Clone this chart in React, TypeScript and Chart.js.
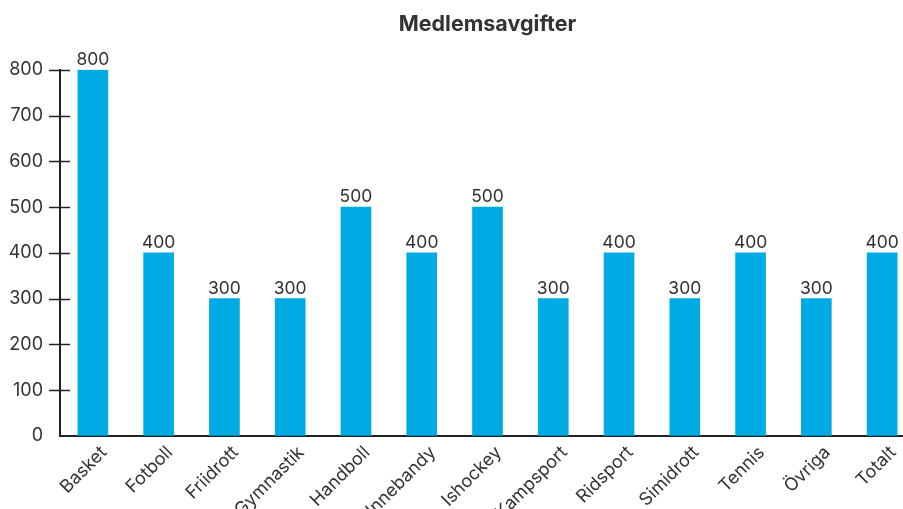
import React, { useEffect, useRef } from "react";
import { Chart, registerables } from "chart.js";

Chart.register(...registerables);

const categories = ["Basket", "Fotboll", "Friidrott", "Gymnastik", "Handboll", "Innebandy", "Ishockey", "Kampsport", "Ridsport", "Simidrott", "Tennis", "Övriga", "Totalt"];
const values = [800, 400, 300, 300, 500, 400, 500, 300, 400, 300, 400, 300, 400];
const yTicks = [100, 200, 300, 400, 500, 600, 700, 800];
const title = "Medlemsavgifter";

const FONT = "Inter, 'Open Sans', sans-serif";
const TEXT = "#333333";

const crossTicks = {
  id: "crossTicks",
  afterDraw(chart: any) {
    const { ctx, scales } = chart;
    const y = scales.y;
    const x0 = chart.chartArea.left;
    ctx.save();
    ctx.strokeStyle = "#222";
    ctx.lineWidth = 1.5;
    yTicks.forEach((v) => {
      const py = Math.round(y.getPixelForValue(v)) + 0.5;
      ctx.beginPath();
      ctx.moveTo(x0 - 11, py);
      ctx.lineTo(x0 + 10, py);
      ctx.stroke();
    });
    ctx.restore();
  },
};

const valueLabels = {
  id: "valueLabels",
  afterDatasetsDraw(chart: any) {
    const { ctx } = chart;
    const meta = chart.getDatasetMeta(0);
    ctx.save();
    ctx.font = `17.5px ${FONT}`;
    ctx.fillStyle = TEXT;
    ctx.textAlign = "center";
    ctx.textBaseline = "alphabetic";
    meta.data.forEach((bar: any, i: number) => {
      ctx.fillText(String(values[i]), bar.x, bar.y - 5);
    });
    ctx.restore();
  },
};

export default function App() {
  const ref = useRef<HTMLCanvasElement>(null);
  useEffect(() => {
    if (!ref.current) return;
    const chart = new Chart(ref.current, {
      type: "bar",
      data: {
        labels: categories,
        datasets: [
          {
            data: values,
            backgroundColor: "#00aae3",
            barThickness: 30,
          },
        ],
      },
      options: {
        animation: false,
        responsive: false,
        maintainAspectRatio: false,
        layout: { padding: 0 },
        plugins: {
          legend: { display: false },
          tooltip: { enabled: false },
          title: {
            display: true,
            text: title,
            fullSize: false,
            color: TEXT,
            font: { family: FONT, size: 21.5, weight: "bold" },
            padding: { top: 12, bottom: 32 },
          },
        },
        scales: {
          x: {
            grid: { display: false, drawTicks: false },
            border: { display: true, color: "#222", width: 2 },
            ticks: {
              color: TEXT,
              font: { family: FONT, size: 18 },
              maxRotation: 45,
              minRotation: 45,
              autoSkip: false,
              padding: 6,
              labelOffset: 11,
            },
            afterFit(scale: any) {
              scale.height = 73;
            },
          },
          y: {
            min: 0,
            max: 800,
            ticks: {
              stepSize: 100,
              color: TEXT,
              font: { family: FONT, size: 18 },
              padding: 17,
            },
            grid: { drawOnChartArea: false, drawTicks: false },
            border: { display: true, color: "#222", width: 2 },
            afterFit(scale: any) {
              scale.width = 60;
            },
          },
        },
      },
      plugins: [crossTicks, valueLabels],
    });
    return () => chart.destroy();
  }, []);
  return (
    <div style={{ position: "fixed", left: 0, top: 0, width: 903, height: 509, overflow: "hidden", background: "#fff" }}>
      <canvas ref={ref} width={915} height={509} style={{ display: "block" }} />
    </div>
  );
}
